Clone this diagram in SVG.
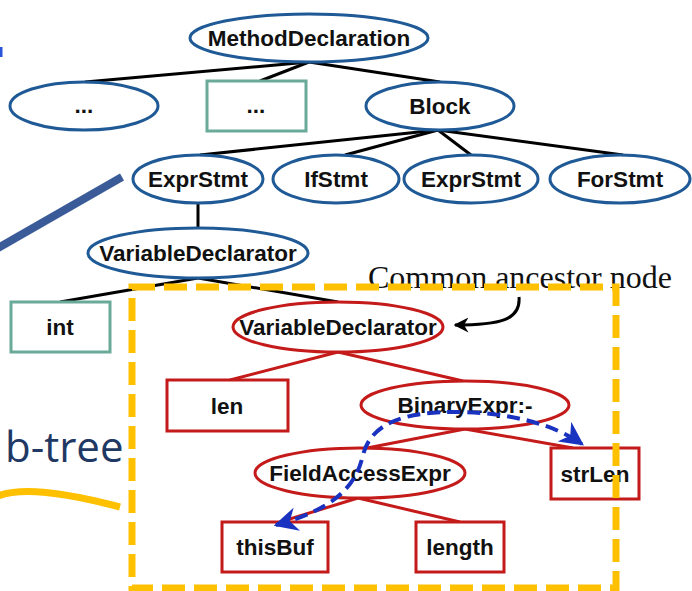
<svg xmlns="http://www.w3.org/2000/svg" width="692" height="591" viewBox="0 0 692 591">
  <style>
    .bg { fill: #ffffff; }
    .ast { fill: #ffffff; stroke: #1f5a96; stroke-width: 3; }
    .leaf { fill: #ffffff; stroke: #6aaa98; stroke-width: 3; }
    .sub { fill: #ffffff; stroke: #c41a1a; stroke-width: 3; }
    .lbl { font-family: "Liberation Sans", Arial, sans-serif; font-weight: bold; font-size: 22.5px; fill: #111111; text-anchor: middle; }
    .edge { stroke: #000000; stroke-width: 3; fill: none; }
    .redge { stroke: #c41a1a; stroke-width: 3; fill: none; }
    .flow { stroke: #1a32c0; stroke-width: 4; stroke-dasharray: 13 7; fill: none; }
    .note { font-family: "Liberation Serif", "Times New Roman", serif; font-size: 32px; fill: #111111; }
    .frame { fill: none; stroke: #ffc000; stroke-width: 7; stroke-dasharray: 23 9; }
  </style>
  <defs>
    <marker id="blackHead" viewBox="0 0 10 10" refX="9" refY="5" markerWidth="5" markerHeight="5" orient="auto">
      <path d="M0,0 L10,5 L0,10 L3,5 Z" fill="#000000"/>
    </marker>
    <marker id="blueHead" viewBox="0 0 10 10" refX="9" refY="5" markerWidth="6" markerHeight="6" orient="auto-start-reverse">
      <path d="M0,0 L10,5 L0,10 L3,5 Z" fill="#1a32c0"/>
    </marker>
  </defs>

  <rect class="bg" x="0" y="0" width="692" height="591"/>

  <!-- side decorations -->
  <rect x="0" y="47" width="2.5" height="10" fill="#2a55d8"/>
  <line x1="-2" y1="248" x2="122" y2="177" stroke="#3a5b98" stroke-width="8"/>
  <text x="5" y="462" font-family="'Open Sans', Lato, sans-serif" font-size="42px" fill="#1f3864">b-tree</text>
  <path d="M-2,496 C20,487 60,491 120,507" fill="none" stroke="#ffc000" stroke-width="7"/>

  <!-- connectors -->
  <g id="connectors">
    <path class="edge" d="M309,62 L85,82"/>
    <path class="edge" d="M309,62 L260,81"/>
    <path class="edge" d="M309,62 L440,82"/>
    <path class="edge" d="M438,130 L200,155"/>
    <path class="edge" d="M438,130 L345,155"/>
    <path class="edge" d="M438,130 L471,155"/>
    <path class="edge" d="M438,130 L623,155"/>
    <path class="edge" d="M198,203 L198,228"/>
    <path class="edge" d="M198,278 L60,302"/>
    <path class="edge" d="M198,278 L338,302"/>
    <path class="redge" d="M338,352 L230,380"/>
    <path class="redge" d="M338,352 L463,381"/>
    <path class="redge" d="M465,429 L367,448"/>
    <path class="redge" d="M465,429 L573,448"/>
    <path class="redge" d="M358,498 L280,522"/>
    <path class="redge" d="M358,498 L460,522"/>
  </g>

  <!-- upper AST -->
  <g id="method-declaration">
    <ellipse class="ast" cx="309" cy="38" rx="119" ry="24"/>
    <text class="lbl" x="309" y="46">MethodDeclaration</text>
  </g>
  <g id="dots-ellipse">
    <ellipse class="ast" cx="84" cy="106" rx="74" ry="24"/>
    <text class="lbl" x="84" y="113">...</text>
  </g>
  <g id="dots-rect">
    <rect class="leaf" x="207" y="81" width="99" height="50"/>
    <text class="lbl" x="256" y="113">...</text>
  </g>
  <g id="block">
    <ellipse class="ast" cx="440" cy="106" rx="74" ry="24"/>
    <text class="lbl" x="440" y="114">Block</text>
  </g>
  <g id="expr-stmt-1">
    <ellipse class="ast" cx="198" cy="179" rx="65" ry="24"/>
    <text class="lbl" x="198" y="187">ExprStmt</text>
  </g>
  <g id="if-stmt">
    <ellipse class="ast" cx="336" cy="179" rx="63" ry="24"/>
    <text class="lbl" x="336" y="187">IfStmt</text>
  </g>
  <g id="expr-stmt-2">
    <ellipse class="ast" cx="471" cy="179" rx="67" ry="24"/>
    <text class="lbl" x="471" y="187">ExprStmt</text>
  </g>
  <g id="for-stmt">
    <ellipse class="ast" cx="620" cy="179" rx="70" ry="24"/>
    <text class="lbl" x="620" y="187">ForStmt</text>
  </g>
  <g id="variable-declarator-outer">
    <ellipse class="ast" cx="198" cy="253" rx="110" ry="25"/>
    <text class="lbl" x="198" y="261">VariableDeclarator</text>
  </g>
  <g id="int">
    <rect class="leaf" x="11" y="302" width="99" height="50"/>
    <text class="lbl" x="60" y="335">int</text>
  </g>

  <!-- sub-tree -->
  <g id="variable-declarator">
    <ellipse class="sub" cx="338" cy="327" rx="105" ry="25"/>
    <text class="lbl" x="338" y="335">VariableDeclarator</text>
  </g>
  <g id="len">
    <rect class="sub" x="167" y="380" width="121" height="51"/>
    <text class="lbl" x="227" y="414">len</text>
  </g>
  <g id="binary-expr">
    <ellipse class="sub" cx="465" cy="405" rx="104" ry="24"/>
    <text class="lbl" x="465" y="413">BinaryExpr:-</text>
  </g>
  <g id="field-access-expr">
    <ellipse class="sub" cx="360" cy="473" rx="105" ry="25"/>
    <text class="lbl" x="360" y="481">FieldAccessExpr</text>
  </g>
  <g id="str-len">
    <rect class="sub" x="551" y="448" width="88" height="51"/>
    <text class="lbl" x="595" y="482">strLen</text>
  </g>
  <g id="this-buf">
    <rect class="sub" x="222" y="522" width="106" height="50"/>
    <text class="lbl" x="275" y="555">thisBuf</text>
  </g>
  <g id="length">
    <rect class="sub" x="416" y="522" width="88" height="50"/>
    <text class="lbl" x="460" y="555">length</text>
  </g>

  <!-- data-flow path between leaves -->
  <path class="flow" d="M276,525 C330,510 355,490 363,455 C372,420 410,412 455,412 C510,412 555,425 582,444" marker-start="url(#blueHead)" marker-end="url(#blueHead)"/>

  <!-- annotation -->
  <text class="note" x="368" y="288">Common ancestor node</text>
  <path d="M519,297 C521,320 500,325 455,325" fill="none" stroke="#000000" stroke-width="3" marker-end="url(#blackHead)"/>

  <!-- sub-tree frame -->
  <rect class="frame" x="132" y="287" width="484" height="301"/>
</svg>
